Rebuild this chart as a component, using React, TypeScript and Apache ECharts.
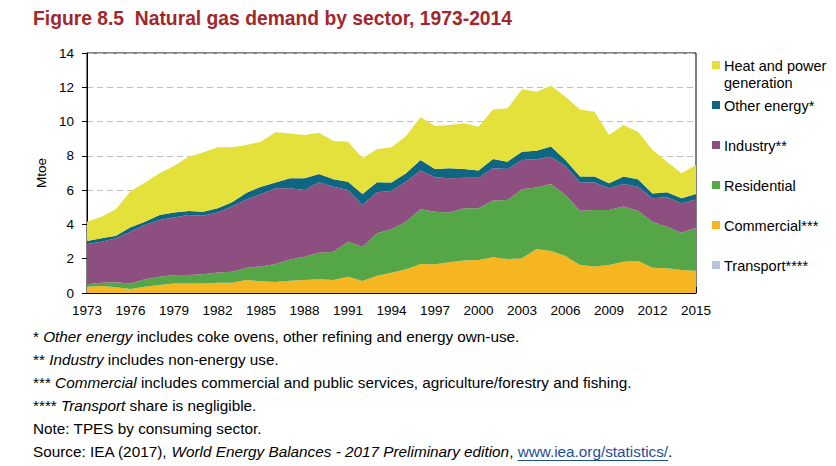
import React, { useEffect, useRef } from "react";
import * as echarts from "echarts";

const years = [
  "1973","1974","1975","1976","1977","1978","1979","1980","1981","1982",
  "1983","1984","1985","1986","1987","1988","1989","1990","1991","1992",
  "1993","1994","1995","1996","1997","1998","1999","2000","2001","2002",
  "2003","2004","2005","2006","2007","2008","2009","2010","2011","2012",
  "2013","2014","2015",
];

const transport = [
  0,0,0,0,0,0,0,0,0,0, 0,0,0,0,0,0,0,0,0,0, 0,0,0,0,0,0,0,0,0,0, 0,0,0,0,0,0,0,0,0,0, 0,0,0,
];
const commercial = [
  0.37,0.41,0.33,0.23,0.37,0.47,0.56,0.56,0.56,0.60,
  0.60,0.76,0.68,0.64,0.72,0.76,0.80,0.76,0.95,0.70,
  1.01,1.18,1.38,1.69,1.67,1.79,1.89,1.92,2.08,1.98,
  2.02,2.57,2.45,2.16,1.63,1.54,1.63,1.83,1.87,1.48,
  1.44,1.34,1.30,
];
const residential = [
  0.14,0.19,0.29,0.33,0.43,0.48,0.49,0.49,0.53,0.59,
  0.64,0.72,0.86,1.05,1.24,1.36,1.55,1.65,2.04,2.00,
  2.47,2.54,2.78,3.19,3.07,2.90,3.05,3.02,3.31,3.44,
  4.03,3.59,3.91,3.56,3.17,3.30,3.21,3.21,2.93,2.68,
  2.43,2.18,2.51,
];
const industry = [
  2.35,2.39,2.57,3.02,3.17,3.31,3.36,3.50,3.42,3.50,
  3.80,3.98,4.23,4.42,4.15,3.89,4.11,3.79,3.02,2.43,
  2.39,2.25,2.33,2.26,2.01,2.00,1.79,1.79,1.88,1.81,
  1.71,1.64,1.59,1.69,1.64,1.60,1.27,1.32,1.40,1.36,
  1.71,1.71,1.65,
];
const otherEnergy = [
  0.17,0.20,0.15,0.25,0.19,0.29,0.28,0.23,0.23,0.25,
  0.25,0.39,0.43,0.33,0.58,0.68,0.48,0.43,0.48,0.64,
  0.59,0.47,0.49,0.62,0.48,0.58,0.50,0.41,0.55,0.43,
  0.48,0.50,0.59,0.35,0.35,0.35,0.29,0.43,0.43,0.29,
  0.29,0.29,0.31,
];
const heatPower = [
  1.13,1.26,1.56,2.10,2.28,2.43,2.72,3.17,3.45,3.56,
  3.21,2.78,2.63,2.93,2.62,2.53,2.41,2.24,2.34,2.09,
  1.92,2.06,2.18,2.49,2.51,2.53,2.67,2.56,2.89,3.11,
  3.64,3.44,3.55,3.69,3.92,3.79,2.82,3.01,2.78,2.53,
  1.79,1.46,1.70,
];

const seriesNames = [
  "Transport****",
  "Commercial***",
  "Residential",
  "Industry**",
  "Other energy*",
  "Heat and power generation",
];
const seriesColors = ["#B7C4DA", "#F6B621", "#55A646", "#8C4F80", "#0F6683", "#E4E03C"];
const seriesData = [transport, commercial, residential, industry, otherEnergy, heatPower];

const legendLabels = [
  "Heat and power\ngeneration",
  "Other energy*",
  "Industry**",
  "Residential",
  "Commercial***",
  "Transport****",
];
const legendColors = ["#E4E03C", "#0F6683", "#8C4F80", "#55A646", "#F6B621", "#B7C4DA"];

const yTicks = ["0", "2", "4", "6", "8", "10", "12", "14"];

const FONT = "'Liberation Sans', Arial, Helvetica, sans-serif";

function measure(text: string, font: string): number {
  const c = document.createElement("canvas").getContext("2d");
  if (!c) return text.length * 7;
  c.font = font;
  return c.measureText(text).width;
}

export default function App() {
  const ref = useRef<HTMLDivElement>(null);

  useEffect(() => {
    if (!ref.current) return;
    const chart = echarts.init(ref.current, undefined, { renderer: "svg" });

    const noteSize = 15.3;
    const noteTop = 329;
    const noteStep = 23;
    const noteX = 33;
    const rich = {
      i: { fontStyle: "italic", fontSize: noteSize, fontFamily: FONT, fill: "#000" },
      n: { fontSize: noteSize, fontFamily: FONT, fill: "#000" },
    };
    const notes = [
      "{n|* }{i|Other energy}{n| includes coke ovens, other refining and energy own-use.}",
      "{n|** }{i|Industry}{n| includes non-energy use.}",
      "{n|*** }{i|Commercial}{n| includes commercial and public services, agriculture/forestry and fishing.}",
      "{n|**** }{i|Transport}{n| share is negligible.}",
      "{n|Note: TPES by consuming sector.}",
      "{n|Source: IEA (2017), }{i|World Energy Balances - 2017 Preliminary edition}{n|, }",
    ];

    const srcA = "Source: IEA (2017), ";
    const srcB = "World Energy Balances - 2017 Preliminary edition";
    const srcC = ", ";
    const linkText = "www.iea.org/statistics/";
    const normalFont = `${noteSize}px ${FONT}`;
    const italicFont = `italic ${noteSize}px ${FONT}`;
    const linkX =
      noteX + measure(srcA, normalFont) + measure(srcB, italicFont) + measure(srcC, normalFont);
    const linkW = measure(linkText, normalFont);
    const srcY = noteTop + noteStep * 5;

    const graphics: any[] = [
      {
        type: "text",
        x: 33,
        y: 9,
        style: {
          text: "Figure 8.5  Natural gas demand by sector, 1973-2014",
          font: `bold 19.3px ${FONT}`,
          fill: "#A3262A",
        },
      },
    ];
    notes.forEach((t, k) => {
      graphics.push({
        type: "text",
        x: noteX,
        y: noteTop + noteStep * k,
        style: { text: t, rich, fontSize: noteSize, fontFamily: FONT, fill: "#000" },
      });
    });
    graphics.push({
      type: "text",
      x: linkX,
      y: srcY,
      style: { text: linkText, font: normalFont, fill: "#1F4E9C" },
    });
    graphics.push({
      type: "text",
      x: linkX + linkW,
      y: srcY,
      style: { text: ".", font: normalFont, fill: "#000" },
    });
    graphics.push({
      type: "line",
      shape: { x1: linkX, y1: srcY + 16.5, x2: linkX + linkW, y2: srcY + 16.5 },
      style: { stroke: "#1F4E9C", lineWidth: 1 },
    });

    legendLabels.forEach((lab, k) => {
      const cy = 65 + 40 * k;
      graphics.push({
        type: "rect",
        shape: { x: 712, y: cy - 4, width: 8, height: 8 },
        style: { fill: legendColors[k] },
      });
      graphics.push({
        type: "text",
        x: 724,
        y: cy - 8,
        style: { text: lab, font: `14.5px ${FONT}`, fill: "#000", lineHeight: 17 },
      });
    });

    chart.setOption({
      animation: false,
      backgroundColor: "#fff",
      textStyle: { fontFamily: FONT },
      grid: {
        left: 87,
        top: 53,
        right: 140,
        bottom: 173,
        show: true,
        borderColor: "#000",
        borderWidth: 1,
        backgroundColor: "transparent",
      },
      xAxis: {
        type: "category",
        data: years,
        boundaryGap: false,
        axisLine: { lineStyle: { color: "#000", width: 1 } },
        axisTick: { inside: true, length: 6, interval: 2, lineStyle: { color: "#000" } },
        axisLabel: { interval: 2, color: "#000", fontSize: 13.5, margin: 10, fontFamily: FONT },
        splitLine: { show: false },
      },
      yAxis: {
        type: "value",
        min: 0,
        max: 14,
        interval: 2,
        name: "Mtoe",
        nameLocation: "middle",
        nameGap: 34,
        nameRotate: 90,
        nameTextStyle: { color: "#000", fontSize: 13.5, fontFamily: FONT },
        axisLine: { show: true, lineStyle: { color: "#000", width: 1 } },
        axisTick: { show: true, inside: false, length: 5, lineStyle: { color: "#000" } },
        axisLabel: {
          color: "#000",
          fontSize: 13.5,
          margin: 13,
          fontFamily: FONT,
          formatter: (v: number) => yTicks[Math.round(v / 2)] ?? String(v),
        },
        splitLine: { show: true, lineStyle: { color: "#BFBFBF", type: [6, 4], width: 1 } },
      },
      series: seriesNames.map((name, k) => ({
        name,
        type: "line",
        stack: "total",
        data: seriesData[k],
        symbol: "none",
        lineStyle: { width: 0 },
        areaStyle: { color: seriesColors[k], opacity: 1 },
        itemStyle: { color: seriesColors[k] },
        z: 2,
      })),
      graphic: graphics,
    });

    return () => chart.dispose();
  }, []);

  return (
    <div
      ref={ref}
      style={{ position: "fixed", left: 0, top: 0, width: 836, height: 466, background: "#fff" }}
    />
  );
}
